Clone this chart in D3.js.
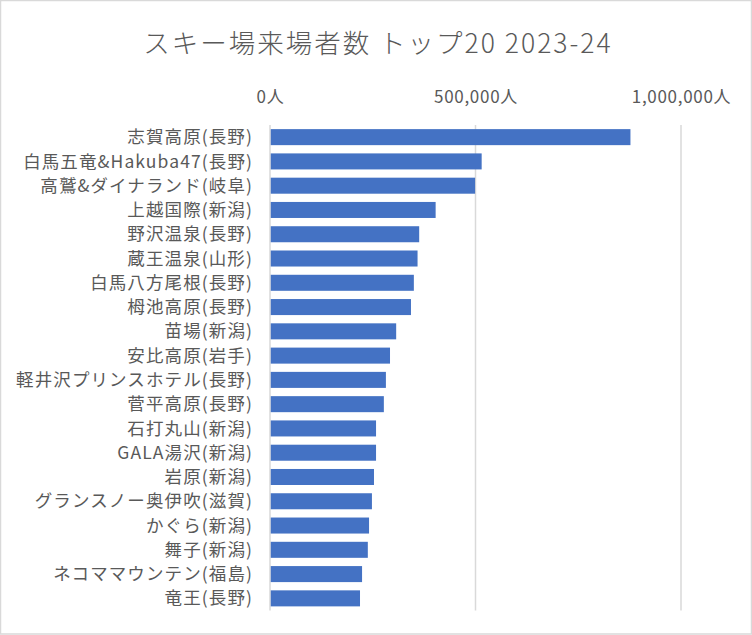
<!DOCTYPE html>
<html>
<head>
<meta charset="utf-8">
<script src="https://cdn.jsdelivr.net/npm/d3@7"></script>
<style>
  html, body { margin: 0; padding: 0; background: #fff; }
  svg { display: block; }
  text { font-family: "Noto Sans CJK JP", "Noto Sans", sans-serif; fill: #595959; }
</style>
</head>
<body>
<svg id="chart" width="752" height="635"></svg>
<script>
const categories = [
  "志賀高原(長野)", "白馬五竜&Hakuba47(長野)", "高鷲&ダイナランド(岐阜)", "上越国際(新潟)",
  "野沢温泉(長野)", "蔵王温泉(山形)", "白馬八方尾根(長野)", "栂池高原(長野)",
  "苗場(新潟)", "安比高原(岩手)", "軽井沢プリンスホテル(長野)", "菅平高原(長野)",
  "石打丸山(新潟)", "GALA湯沢(新潟)", "岩原(新潟)", "グランスノー奥伊吹(滋賀)",
  "かぐら(新潟)", "舞子(新潟)", "ネコママウンテン(福島)", "竜王(長野)"
];
const visitors = [
  877000, 515000, 499000, 403000,
  363000, 359000, 350000, 343000,
  307000, 292000, 282000, 277000,
  258000, 258000, 253000, 248000,
  241000, 238000, 224000, 219000
];
const tickValues = [0, 500000, 1000000];
const title = "スキー場来場者数 トップ20 2023-24";

const svg = d3.select("#chart");
const W = 752, H = 635;

svg.append("rect").attr("x", 0.5).attr("y", 0.5).attr("width", W - 1).attr("height", H - 1.5)
  .attr("fill", "#fff").attr("stroke", "#d9d9d9").attr("stroke-width", 1.5);

svg.append("text").attr("x", 378).attr("y", 53).attr("text-anchor", "middle")
  .style("font-size", "26.5px").style("font-weight", 300).style("letter-spacing", "2px")
  .text(title);

const x = d3.scaleLinear().domain([0, 1000000]).range([270, 681]);
const y = d3.scaleBand().domain(categories).range([125, 610.5]).paddingInner(0.34).paddingOuter(0.17);

// gridlines
svg.append("g").selectAll("line").data(tickValues).join("line")
  .attr("x1", d => x(d)).attr("x2", d => x(d))
  .attr("y1", 125).attr("y2", 610.5)
  .attr("stroke", "#d9d9d9").attr("stroke-width", 1.5);

// top axis labels
const fmt = d3.format(",");
const axis = d3.axisTop(x).tickValues(tickValues).tickSize(0).tickPadding(0)
  .tickFormat(d => fmt(d) + "人");
const gAxis = svg.append("g").attr("transform", "translate(0,103)").call(axis);
gAxis.select(".domain").remove();
gAxis.selectAll("text").attr("dy", 0).style("font-size", "17px").style("fill", "#595959")
  .style("letter-spacing", "0.7px")
  .style("font-family", "'Noto Sans CJK JP', sans-serif");

// bars
svg.append("g").selectAll("rect").data(visitors).join("rect")
  .attr("x", x(0) + 0.75)
  .attr("y", (d, i) => y(categories[i]))
  .attr("width", d => x(d) - x(0) - 0.75)
  .attr("height", y.bandwidth())
  .attr("fill", "#4472c4");

// category labels
const yAxis = d3.axisLeft(y).tickSize(0).tickPadding(0);
const gY = svg.append("g").attr("transform", "translate(253,0)").call(yAxis);
gY.select(".domain").remove();
gY.selectAll("text").style("font-size", "17.5px").style("fill", "#595959")
  .style("letter-spacing", "1.1px")
  .style("font-family", "'Noto Sans CJK JP', sans-serif").attr("dy", "0.35em");
</script>
</body>
</html>
